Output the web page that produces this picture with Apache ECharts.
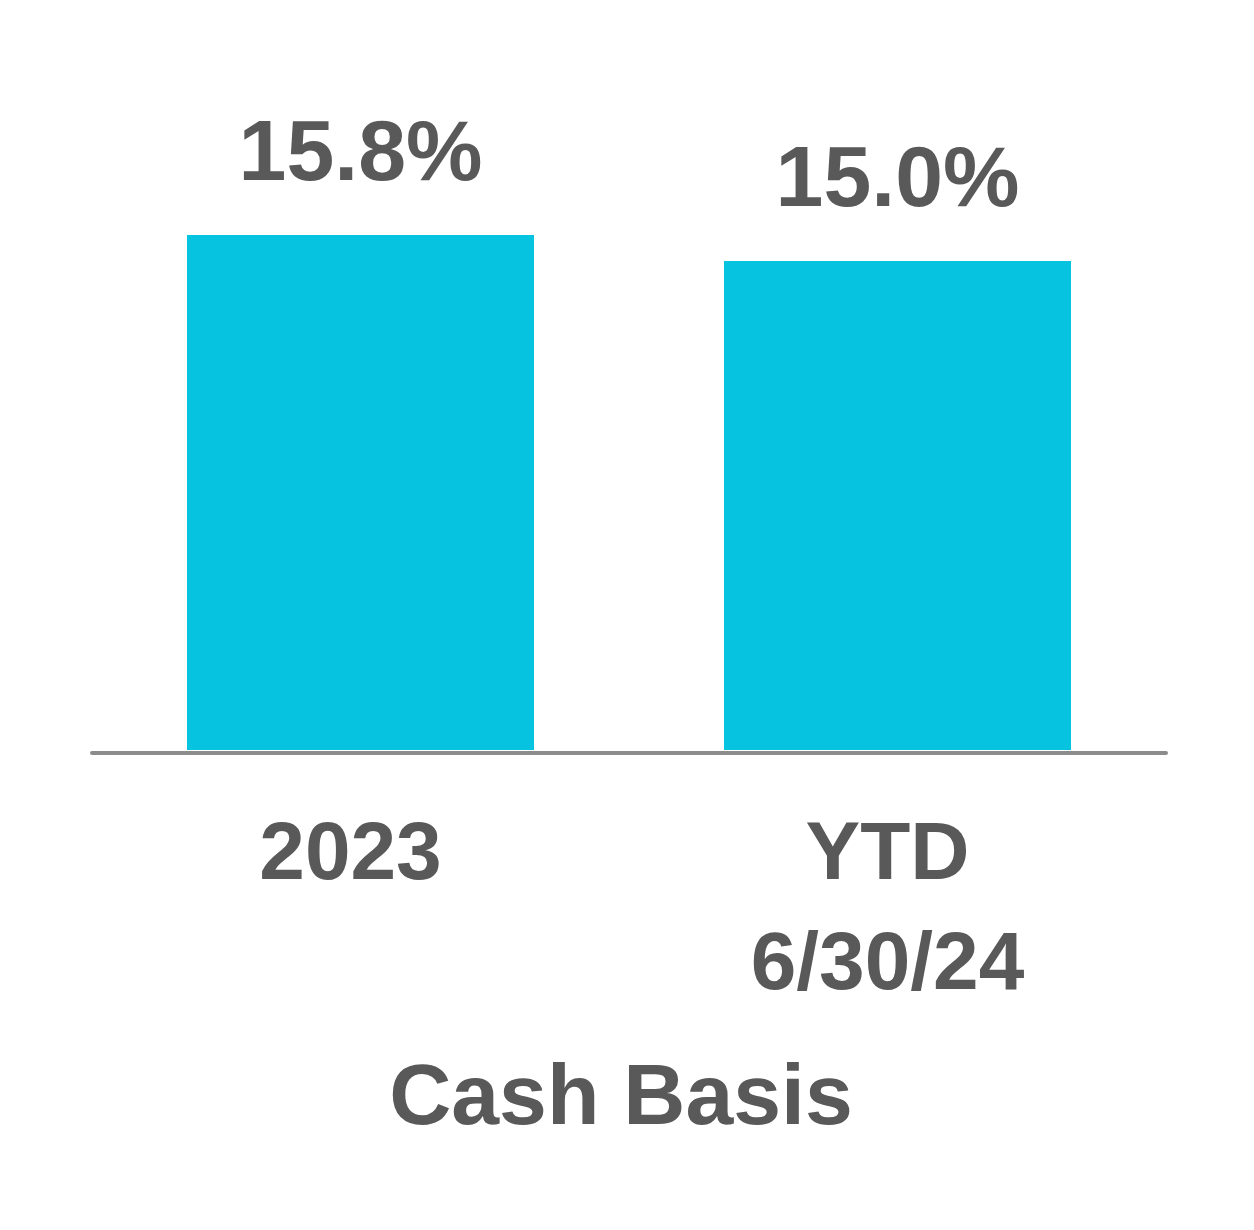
<!DOCTYPE html>
<html>
<head>
<meta charset="utf-8">
<script src="https://cdn.jsdelivr.net/npm/echarts@6/dist/echarts.min.js"></script>
<style>
  html, body { margin: 0; padding: 0; background: #fff; }
  #chart { width: 1254px; height: 1230px; }
</style>
</head>
<body>
<div id="chart"></div>
<script>
var categories = ['2023', 'YTD\n6/30/24'];
var values = [15.8, 15.0];
var footer = 'Cash Basis';

var chart = echarts.init(document.getElementById('chart'));
var font = '"Liberation Sans", Arial, sans-serif';

chart.setOption({
  animation: false,
  grid: { left: 92, right: 88, top: 98, bottom: 480 },
  xAxis: {
    type: 'category',
    data: categories,
    offset: 3,
    axisLine: { onZero: false, lineStyle: { color: '#8c8c8c', width: 4 } },
    axisTick: { show: false },
    axisLabel: {
      color: '#595959',
      fontFamily: font,
      fontWeight: 'bold',
      fontSize: 82,
      lineHeight: 110,
      margin: 48,
      padding: [0, 20, 0, 0]
    }
  },
  yAxis: {
    type: 'value',
    min: 0,
    max: 20,
    show: false,
    splitLine: { show: false }
  },
  graphic: [{
    type: 'text',
    x: 621,
    y: 1057,
    style: {
      text: footer,
      textAlign: 'center',
      fill: '#595959',
      font: 'bold 86px ' + font
    }
  }],
  series: [{
    type: 'bar',
    data: values,
    barWidth: 347,
    itemStyle: { color: '#06c3df' },
    label: {
      show: true,
      position: 'top',
      distance: 36,
      formatter: function (p) { return p.value.toFixed(1) + '%'; },
      color: '#595959',
      fontFamily: font,
      fontWeight: 'bold',
      fontSize: 86
    }
  }]
});
</script>
</body>
</html>
